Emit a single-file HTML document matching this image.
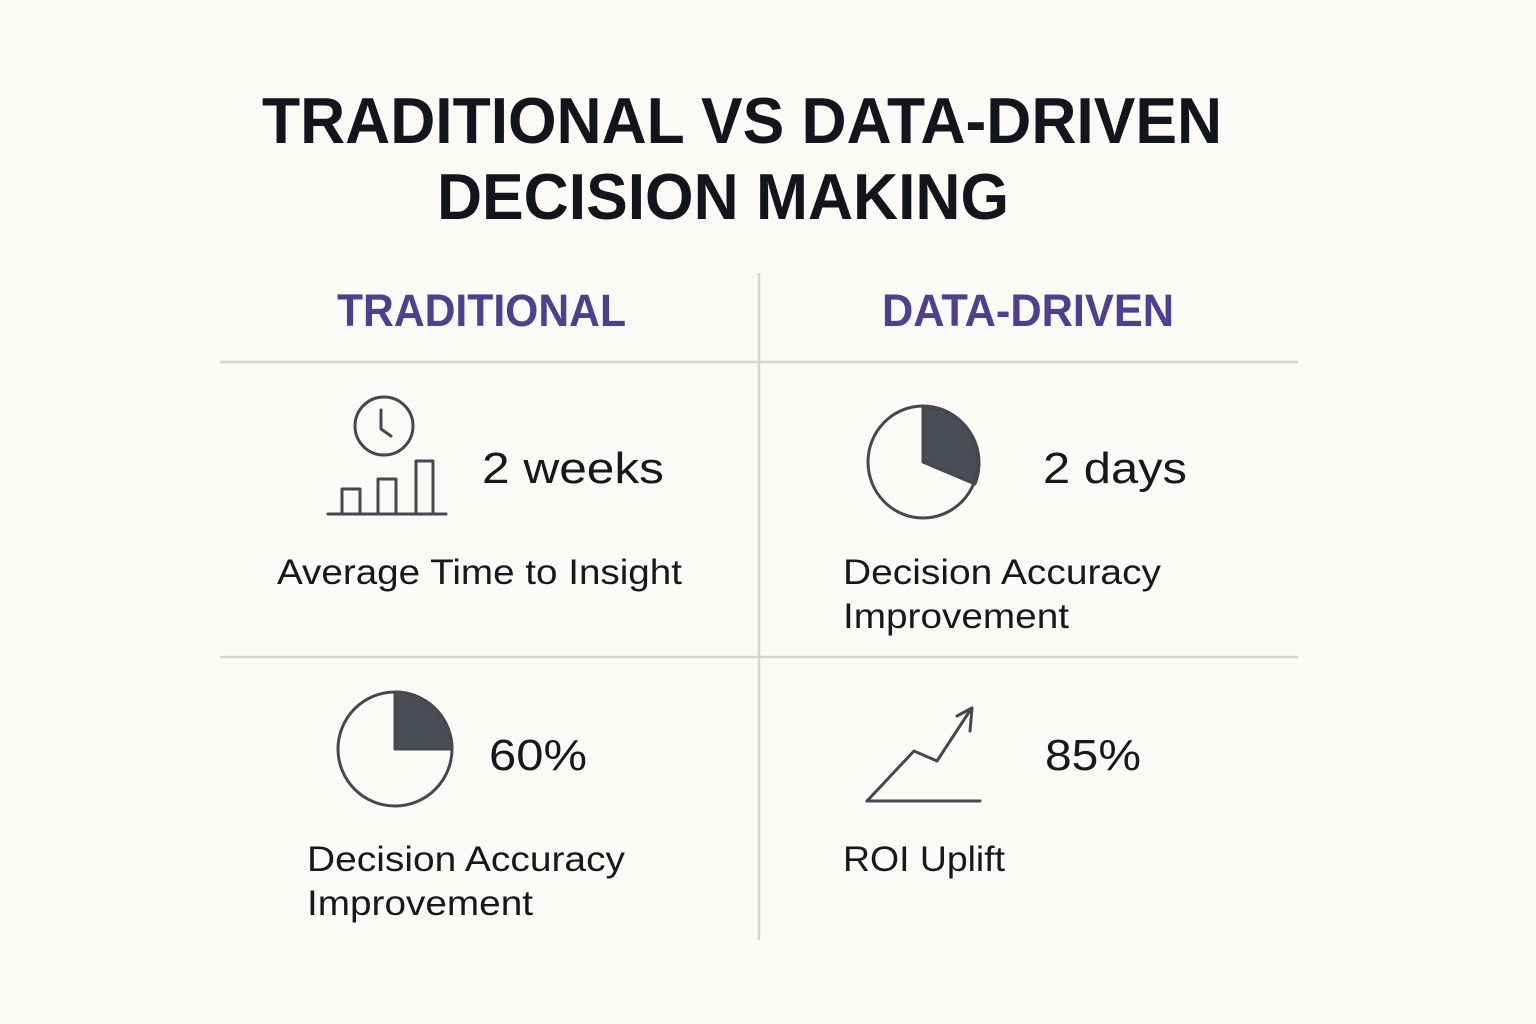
<!DOCTYPE html>
<html><head><meta charset="utf-8"><style>
html,body{margin:0;padding:0;background:#fbfaf6;}
svg{display:block;}
text{font-family:"Liberation Sans",sans-serif;}
</style></head><body>
<svg width="1536" height="1024" viewBox="0 0 1536 1024" xmlns="http://www.w3.org/2000/svg">
<rect width="1536" height="1024" fill="#fbfaf6"/>
<g fill="#12151c" font-weight="bold" font-size="65">
<text x="262" y="143" textLength="960" lengthAdjust="spacingAndGlyphs">TRADITIONAL VS DATA-DRIVEN</text>
<text x="437" y="219" textLength="572" lengthAdjust="spacingAndGlyphs">DECISION MAKING</text>
</g>
<g fill="#4d3f92" font-weight="bold" font-size="45">
<text x="337" y="326" textLength="289" lengthAdjust="spacingAndGlyphs">TRADITIONAL</text>
<text x="882" y="326" textLength="292" lengthAdjust="spacingAndGlyphs">DATA-DRIVEN</text>
</g>
<g stroke="#d6d5d0" stroke-width="2.5">
<line x1="759" y1="273" x2="759" y2="940"/>
<line x1="220" y1="362" x2="1298" y2="362"/>
<line x1="220" y1="657" x2="1298" y2="657"/>
</g>
<g fill="#16181d" font-size="44">
<text x="482" y="483" textLength="182" lengthAdjust="spacingAndGlyphs">2 weeks</text>
<text x="1043" y="483" textLength="144" lengthAdjust="spacingAndGlyphs">2 days</text>
<text x="489" y="770" textLength="98" lengthAdjust="spacingAndGlyphs">60%</text>
<text x="1045" y="770" textLength="96" lengthAdjust="spacingAndGlyphs">85%</text>
</g>
<g fill="#16181d" font-size="35">
<text x="277" y="584" textLength="405" lengthAdjust="spacingAndGlyphs">Average Time to Insight</text>
<text x="843" y="584" textLength="318" lengthAdjust="spacingAndGlyphs">Decision Accuracy</text>
<text x="843" y="628" textLength="226" lengthAdjust="spacingAndGlyphs">Improvement</text>
<text x="307" y="871" textLength="318" lengthAdjust="spacingAndGlyphs">Decision Accuracy</text>
<text x="307" y="915" textLength="226" lengthAdjust="spacingAndGlyphs">Improvement</text>
<text x="843" y="871" textLength="162" lengthAdjust="spacingAndGlyphs">ROI Uplift</text>
</g>
<g stroke="#45484e" stroke-width="3" fill="none" stroke-linecap="round" stroke-linejoin="round">
<circle cx="384" cy="426" r="29"/>
<polyline points="381,410 381,429 391,436"/>
<line x1="328" y1="514" x2="446" y2="514"/>
<polyline points="342,514 342,489 360,489 360,514"/>
<polyline points="378,514 378,479 396,479 396,514"/>
<polyline points="416,514 416,461 433,461 433,514"/>
<path d="M923,462 L923,407 A55,56 0 0 1 975,484 Z" fill="#4a4d53"/>
<ellipse cx="923" cy="462" rx="55" ry="56"/>
<path d="M395,749 L395,692 A57,57 0 0 1 452,749 Z" fill="#4a4d53"/>
<circle cx="395" cy="749" r="57"/>
<polyline points="867,801 914,751 937,761 971,709"/>
<polyline points="957,716 972,708 970,731"/>
<line x1="867" y1="801" x2="980" y2="801"/>
</g>
</svg>
</body></html>
